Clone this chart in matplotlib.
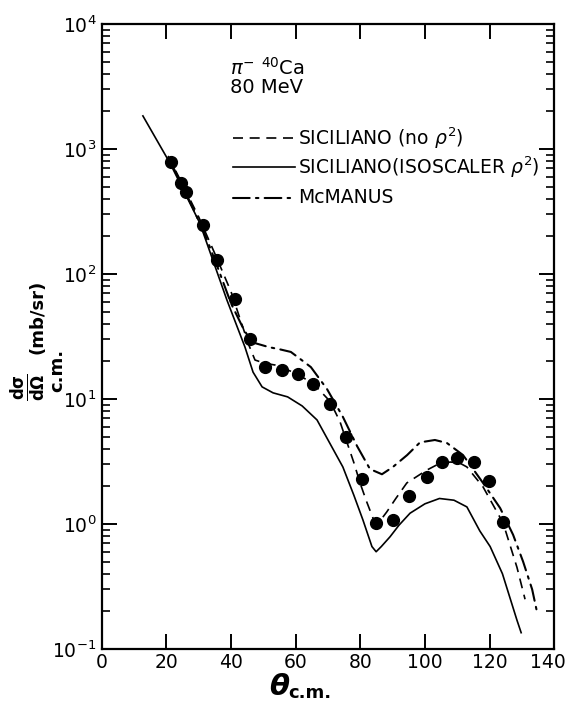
import matplotlib
matplotlib.use("Agg")
import matplotlib.pyplot as plt
import matplotlib.transforms as mtransforms
import numpy as np
from matplotlib.ticker import LogLocator, NullFormatter

plt.rcParams['font.family'] = ['DejaVu Sans']
plt.rcParams['mathtext.fontset'] = 'dejavusans'

# measured points (theta c.m. in deg, dsigma/dOmega in mb/sr)
theta_data = [21.4, 24.5, 26.0, 31.3, 35.6, 41.2, 45.8, 50.5, 55.7, 60.7, 65.3, 70.6,
              75.6, 80.5, 84.9, 90.1, 95.1, 100.7, 105.3, 109.9, 115.2, 119.9, 124.2]
sigma_data = [790, 535, 455, 247, 129, 63, 30, 18, 17, 15.8, 13.2, 9.1,
              5.0, 2.3, 1.02, 1.08, 1.67, 2.38, 3.13, 3.37, 3.13, 2.21, 1.04]

# SICILIANO (isoscaler rho^2) - solid
theta_iso = [12.7, 21.1, 30.3, 38.7, 44.3, 46.8, 49.6, 53.0, 57.5, 62.0, 66.6, 71.5,
             74.6, 78.0, 80.8, 83.6, 84.9, 86.5, 89.2, 92.0, 95.4, 100.0, 104.5,
             109.0, 113.0, 117.0, 120.2, 124.0, 128.5, 129.8]
sigma_iso = [1840, 770, 256, 62, 26, 16.4, 12.5, 11.2, 10.4, 8.8, 6.8, 4.0,
             2.86, 1.7, 1.08, 0.66, 0.60, 0.66, 0.79, 0.98, 1.22, 1.45, 1.6,
             1.55, 1.37, 0.88, 0.66, 0.40, 0.17, 0.135]

# SICILIANO (no rho^2) - dashed
theta_no = [20.5, 25, 30, 35, 40, 43, 45.5, 47.4, 50.5, 53.6, 59.2, 65.3, 70.6, 73.7,
            76, 78, 80, 82, 84.5, 86, 88.2, 91, 94.4, 100.6, 104, 107.8, 110.5, 113,
            118, 124.2, 128.5, 131]
sigma_no = [880, 520, 285, 145, 72, 42, 27, 20.5, 19.3, 18.7, 16.4, 13.4, 9.6, 6.6,
            4.4, 3.1, 2.1, 1.5, 1.02, 1.05, 1.25, 1.6, 2.13, 2.7, 3.0, 3.13, 3.1, 2.86,
            1.98, 1.02, 0.45, 0.25]

# McMANUS - dash-dot
theta_mc = [22, 28.2, 32.2, 35.9, 40, 43.7, 45.8, 47.4, 51.7, 55, 58.5, 61.3, 64.7,
            69.7, 74.6, 79, 83, 86.7, 90.1, 94.5, 98.5, 103.1, 106.8, 111.8, 118,
            123.3, 127.3, 130.4, 133.2, 134.7]
sigma_mc = [720, 337, 198, 112, 58, 37, 30, 28, 26, 25, 23.8, 21, 18,
            12, 7.2, 4.2, 2.75, 2.5, 2.86, 3.56, 4.5, 4.7, 4.45, 3.56, 2.13,
            1.34, 0.82, 0.5, 0.3, 0.198]

x_ticks = [0, 20, 40, 60, 80, 100, 120, 140]

fig = plt.figure(figsize=(5.66, 7.02), dpi=100)
ax = fig.add_axes([0.180, 0.0755, 0.799, 0.8903])

lw = 1.2
dashdot = (8, 3, 1.2, 3)
ax.plot(theta_iso, sigma_iso, color='black', lw=lw)
ax.plot(theta_no, sigma_no, color='black', lw=lw, dashes=(6, 4))
ax.plot(theta_mc, sigma_mc, color='black', lw=1.5, dashes=dashdot,
        dash_capstyle='round')
ax.plot(theta_data, sigma_data, 'o', color='black', ms=8.5)

ax.set_yscale('log')
ax.set_xlim(0, 140)
ax.set_ylim(0.1, 1e4)
ax.set_xticks(x_ticks)
ax.yaxis.set_major_locator(LogLocator(base=10, numticks=10))
ax.yaxis.set_minor_locator(LogLocator(base=10, subs=np.arange(2, 10), numticks=20))
ax.yaxis.set_minor_formatter(NullFormatter())

for s in ax.spines.values():
    s.set_linewidth(1.6)
ax.tick_params(which='major', direction='in', length=11, width=1.4,
               top=True, right=True, labelsize=13.5, pad=4)
ax.tick_params(which='minor', direction='in', length=5.5, width=1.2,
               left=True, right=True)
ax.tick_params(axis='x', which='major', pad=3)

# keep the last x label inside the figure, as in the original
last = ax.get_xticklabels()[-1]
last.set_transform(last.get_transform() +
                   mtransforms.ScaledTranslation(-6 / 100, 0, fig.dpi_scale_trans))

# annotations / legend
ax.text(0.283, 0.930, r'$\pi^{-}$ $^{40}$Ca', transform=ax.transAxes,
        fontsize=14, va='center')
ax.text(0.283, 0.898, '80 MeV', transform=ax.transAxes, fontsize=14, va='center')

leg = [(0.818, dict(lw=lw, dashes=(6, 4)), r'SICILIANO (no $\rho^2$)'),
       (0.771, dict(lw=lw), r'SICILIANO(ISOSCALER $\rho^2$)'),
       (0.722, dict(lw=1.5, dashes=dashdot, dash_capstyle='round'), 'McMANUS')]
for yy, style, label in leg:
    ax.plot([0.290, 0.427], [yy, yy], transform=ax.transAxes, color='black',
            **style)
    ax.text(0.433, yy, label, transform=ax.transAxes, fontsize=13.5, va='center')

# axis titles
fig.text(0.050, 0.449, r'$\mathbf{\frac{d\sigma}{d\Omega}}$', rotation=90,
         fontsize=17, ha='center', va='center')
fig.text(0.101, 0.473, 'c.m.', rotation=90, fontsize=13, fontweight='bold',
         ha='center', va='center')
fig.text(0.066, 0.548, '(mb/sr)', rotation=90, fontsize=13, fontweight='bold',
         ha='center', va='center')
fig.text(0.493, 0.021, 'θ', fontsize=21, fontweight='bold', fontstyle='italic',
         ha='center', va='center')
fig.text(0.510, 0.013, 'c.m.', fontsize=13, fontweight='bold',
         ha='left', va='center')

fig.savefig('out.png', dpi=100)
